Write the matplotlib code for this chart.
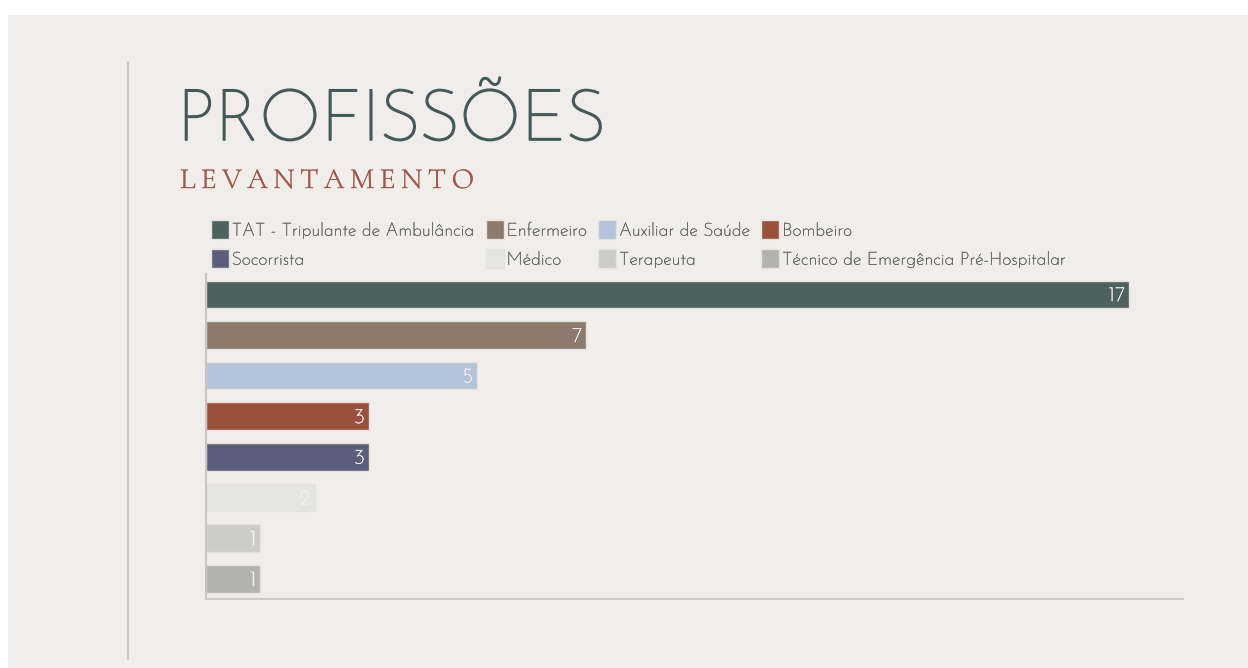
import matplotlib.pyplot as plt
from matplotlib.patches import Rectangle
from matplotlib.lines import Line2D
import matplotlib.patheffects as pe

categorias = ["TAT - Tripulante de Ambulância", "Enfermeiro", "Auxiliar de Saúde", "Bombeiro",
              "Socorrista", "Médico", "Terapeuta", "Técnico de Emergência Pré-Hospitalar"]
valores = [17, 7, 5, 3, 3, 2, 1, 1]
cores = ["#4d625e", "#8c7b6d", "#b3c3da", "#9a503d", "#5c5f7b", "#e5e5e4", "#cccccb", "#b2b2b1"]

fundo = "#f1edea"
W, H = 1248, 668
fig = plt.figure(figsize=(W / 100, H / 100), dpi=100, facecolor="white")

# painel de fundo e linha vertical decorativa
fig.patches.append(Rectangle((8 / W, 0), 1 - 8 / W, 1 - 15 / H, transform=fig.transFigure,
                             facecolor=fundo, edgecolor="none", zorder=-10))
fig.lines.append(Line2D([128 / W, 128 / W], [1 - 63 / H, 1 - 659 / H], transform=fig.transFigure,
                        color="#dcbfb6", lw=1.5))

# Josefin Sans so existe na versao fina; um contorno da mesma cor engrossa o traco
def grosso(cor, lw):
    return [pe.withStroke(linewidth=lw, foreground=cor)]

fig.text(177 / W, 1 - 140 / H, "PROFISSÕES", fontfamily="Josefin Sans", fontsize=51.5,
         color="#44595a", va="baseline", ha="left", path_effects=grosso("#44595a", 1.2))

# subtitulo com espacamento entre letras
x = 180 / W
for letra in "LEVANTAMENTO":
    t = fig.text(x, 1 - 188 / H, letra, fontfamily="Cormorant Garamond", fontsize=21,
                 color="#a0584a", va="baseline", ha="left", path_effects=grosso("#a0584a", 0.3))
    fig.canvas.draw()
    bb = t.get_window_extent()
    x += (bb.width + 5.6) / W

ax = fig.add_axes([206 / W, 1 - 599 / H, (1183 - 206) / W, (599 - 274) / H])
ax.set_facecolor("none")
y = list(range(len(valores)))
ax.barh(y, valores, height=0.68, color=cores, edgecolor="#e6e2de", linewidth=1, zorder=2)
for yi, v in zip(y, valores):
    ax.annotate(str(v), (v, yi), xytext=(-3, -1), textcoords="offset points", ha="right", va="center",
                color="#f4f2f0", fontsize=15, fontfamily="Josefin Sans",
                path_effects=grosso("#f4f2f0", 0.35))
ax.set_xlim(0, 18)
ax.set_ylim(len(valores) - 0.5, -0.5)
ax.set_xticks([])
ax.set_yticks([])
for s in ("top", "right"):
    ax.spines[s].set_visible(False)
ax.spines["left"].set_color("#c8c4c0")
ax.spines["bottom"].set_color("#cfcac6")
ax.spines["left"].set_linewidth(1.5)
ax.spines["bottom"].set_linewidth(1.5)

# legenda em 2 linhas x 4 colunas (matplotlib preenche por coluna)
ordem = [0, 4, 1, 5, 2, 6, 3, 7]
handles = [Rectangle((0, 0), 1, 1, facecolor=cores[i], edgecolor="#e6e2de") for i in ordem]
labels = [categorias[i] for i in ordem]
leg = fig.legend(handles, labels, ncol=4, loc="upper left", bbox_to_anchor=(211 / W, 1 - 220 / H),
                 frameon=False, prop={"family": "Josefin Sans", "size": 13.0}, labelcolor="#616766",
                 handlelength=1.0, handleheight=1.25, handletextpad=0.15, columnspacing=0.6,
                 labelspacing=0.55, borderaxespad=0, borderpad=0)
for t in leg.get_texts():
    t.set_path_effects(grosso("#616766", 0.3))

fig.savefig("out.png", dpi=100, facecolor="white")
